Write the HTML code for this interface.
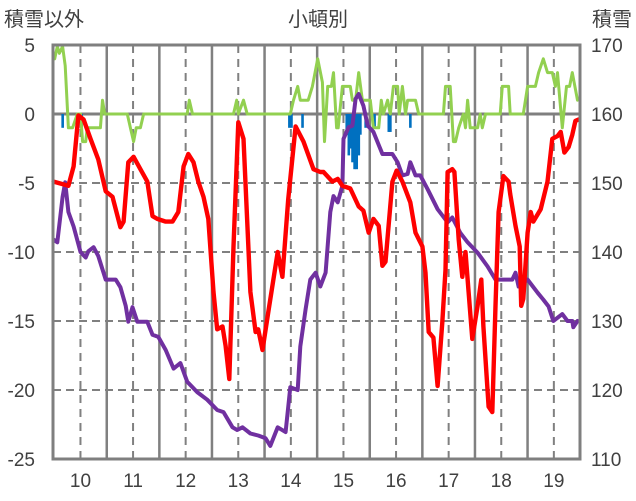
<!DOCTYPE html>
<html><head><meta charset="utf-8"><style>
html,body{margin:0;padding:0;background:#fff;}
svg{display:block;font-family:"Liberation Sans","Noto Sans CJK JP",sans-serif;}
</style></head><body>
<svg id="chart" width="636" height="501" viewBox="0 0 636 501" xmlns="http://www.w3.org/2000/svg">
<text x="4" y="26" font-size="20" fill="#404040">積雪以外</text>
<text x="318" y="26" font-size="20" fill="#404040" text-anchor="middle">小頓別</text>
<text x="592" y="26" font-size="20" fill="#404040">積雪</text>
<g id="grid"></g>
<g id="bars"></g>
<g id="lines"></g>
<rect x="53" y="45" width="527" height="414" fill="none" stroke="#7f7f7f" stroke-width="3"/>
<g id="axes"></g>
</svg>
<script>
const xTicks=[10,11,12,13,14,15,16,17,18,19];
const leftTicks=[5,0,-5,-10,-15,-20,-25];
const rightTicks=[170,160,150,140,130,120,110];
const redT=[9.49,9.77,9.87,9.96,10.06,10.19,10.34,10.48,10.61,10.76,10.82,10.91,11.01,11.14,11.27,11.37,11.46,11.62,11.75,11.86,11.96,12.05,12.15,12.24,12.34,12.43,12.53,12.60,12.70,12.76,12.83,12.91,13.00,13.10,13.23,13.33,13.38,13.46,13.57,13.75,13.84,13.95,14.09,14.24,14.43,14.56,14.62,14.79,14.89,14.98,15.13,15.29,15.38,15.48,15.57,15.67,15.74,15.80,15.93,16.01,16.12,16.27,16.37,16.50,16.56,16.62,16.71,16.79,16.88,16.94,16.98,17.07,17.11,17.19,17.26,17.32,17.38,17.45,17.55,17.62,17.66,17.76,17.83,17.89,17.95,18.04,18.14,18.17,18.27,18.35,18.38,18.42,18.50,18.56,18.61,18.75,18.88,18.97,19.07,19.13,19.20,19.28,19.35,19.41,19.47];
const redV=[-4.9,-5.2,-3.8,-0.1,-0.4,-1.8,-3.3,-5.6,-6,-8.2,-7.8,-3.5,-3.1,-4,-4.9,-7.4,-7.6,-7.8,-7.8,-7.1,-3.8,-2.9,-3.5,-4.9,-6,-7.6,-12.9,-15.6,-15.4,-16.8,-19.2,-9.6,-0.6,-1.8,-12.9,-15.8,-15.6,-17.1,-14.4,-10,-11.8,-6.2,-0.9,-2,-4,-4.2,-4.2,-4.9,-4.7,-5.2,-5.4,-6.7,-7,-8.6,-7.6,-8.1,-11,-10.7,-4.9,-4.1,-4.9,-6.4,-8.6,-9.6,-11.5,-15.8,-16.2,-19.7,-15.1,-11.3,-4.2,-4,-4.2,-9.1,-11.8,-10,-12.9,-16.3,-13.9,-12,-15.4,-21.2,-21.6,-13.9,-7.1,-4.5,-4.9,-5.8,-8.1,-9.6,-13.9,-13.4,-8.6,-7.1,-7.8,-6.9,-4.9,-1.8,-1.6,-1.3,-2.8,-2.4,-1.5,-0.5,-0.4];
const snowT=[9.49,9.56,9.66,9.71,9.77,9.87,10.0,10.10,10.15,10.25,10.34,10.48,10.67,10.76,10.86,10.91,10.99,11.08,11.27,11.37,11.48,11.62,11.77,11.90,12.03,12.22,12.41,12.60,12.72,12.89,12.98,13.08,13.23,13.38,13.52,13.61,13.75,13.90,13.99,14.13,14.18,14.28,14.37,14.47,14.56,14.66,14.75,14.81,14.89,14.98,15.00,15.10,15.17,15.23,15.29,15.38,15.46,15.57,15.74,15.93,16.03,16.12,16.22,16.27,16.37,16.46,16.60,16.79,16.98,17.07,17.22,17.36,17.55,17.74,17.89,18.21,18.27,18.33,18.50,18.69,18.80,18.90,18.99,19.16,19.26,19.35,19.37,19.45];
const snowV=[141.8,141.4,148,150.1,145.8,143.7,140,139.2,140.1,140.7,139.4,136,136,134.9,132.2,129.9,132,129.9,129.9,128,127.7,125.8,123.1,123.9,121.2,119.7,118.6,117.1,116.8,114.6,114.2,114.6,113.7,113.4,113,111.9,114.6,113.9,120.4,120,126.3,131.7,136,137,135,137,145.8,148.1,147.2,149.6,156.4,158.1,158.3,162.2,162.9,161.2,158.3,157.4,154.2,154.2,153,151.1,151.3,153,151.1,151.1,149.1,146.2,144.3,145,142.8,141.4,139.9,137.9,136,136,137,135,136,134.1,133.1,132.1,130,131,130,130,129.1,130];
const greenT=[9.51,9.56,9.60,9.66,9.71,9.77,9.85,9.94,10.0,10.04,10.10,10.13,10.38,10.42,10.46,10.89,10.95,11.01,11.06,11.14,11.20,12.03,12.07,12.13,12.91,12.97,13.00,13.10,13.17,13.99,14.05,14.13,14.18,14.33,14.41,14.51,14.60,14.64,14.70,14.77,14.81,14.87,14.90,14.98,15.13,15.17,15.23,15.29,15.36,15.51,15.57,15.67,15.72,15.76,15.84,15.89,15.95,16.03,16.06,16.12,16.18,16.22,16.37,16.43,16.90,16.94,17.03,17.09,17.13,17.19,17.28,17.32,17.36,17.41,17.55,17.60,17.64,17.70,17.98,18.02,18.14,18.17,18.42,18.50,18.65,18.71,18.80,18.88,18.97,19.03,19.07,19.16,19.24,19.30,19.35,19.45];
const greenV=[4,4.9,4.4,4.9,3.5,-1,-1,0,0,-2,-2,-1,-1,1,0,0,-1,-2,-1,-1,0,0,1,0,0,1,0,1,0,0,1,2,1,1,2,4,2.3,-2,2,2,3,-1,-1,2,2,1,1,3,1,1,-1,-1,1,0,1,0,2,2,0,2,0,1,1,0,0,2,2,-2,-2,-1,0,-1,1,-1,-1,0,-1,0,0,2,2,0,0,2,2,3,4,3,3,2,3,-1,2,2,3,1];
const barT=[9.66,9.96,10.02,13.97,14.01,14.22,15.06,15.10,15.13,15.17,15.21,15.25,15.29,15.32,15.42,15.59,15.86,15.89,16.27];
const barV=[-1,-1,-1,-1,-1,-1,-1.5,-3,-2.5,-3.5,-4,-4,-3,-1.5,-1,-1,-1.3,-1.3,-1];

const NS='http://www.w3.org/2000/svg';
const X0=53,X1=580,Y0=45,Y1=459;
const dMin=9.478,dMax=19.497;
const xs=d=>X0+(d-dMin)/(dMax-dMin)*(X1-X0);
const yL=v=>Y0+(5-v)/30*(Y1-Y0);
const yR=v=>Y0+(170-v)/60*(Y1-Y0);
function mk(tag,attrs,parent){const e=document.createElementNS(NS,tag);for(const k in attrs)e.setAttribute(k,attrs[k]);parent.appendChild(e);return e;}
const grid=document.getElementById('grid'),axes=document.getElementById('axes'),bars=document.getElementById('bars'),lines=document.getElementById('lines');
leftTicks.forEach(v=>{
  if(v===5||v===-25)return;
  const y=yL(v);
  const l=mk('line',{x1:X0,x2:X1,y1:y,y2:y,stroke:v===0?'#7f7f7f':'#808080','stroke-width':v===0?3:2,'stroke-dasharray':v===0?'none':'8 5'},grid);
  
  
});
for(let d=9.5;d<=19.5;d+=0.5){
  const x=xs(d);
  if(x<=X0+2||x>=X1-2)continue;
  const isDay=Math.abs(d-Math.round(d))<0.01;
  const l=mk('line',{x1:x,x2:x,y1:Y0,y2:Y1,stroke:'#808080','stroke-width':isDay?2:2.5,'stroke-dasharray':isDay?'8 6':'none'},grid);
  
  
}
barT.forEach((t,i)=>{
  const x=xs(t),y0=yL(0),y1=yL(barV[i]);
  const r=mk('rect',{x:x-1.2,y:y0,width:2.6,height:y1-y0,fill:'#0070c0'},bars);
  
  
});
function path(T,V,f,color,w,name){
  const d=T.map((t,i)=>(i?'L':'M')+xs(t).toFixed(1)+','+f(V[i]).toFixed(1)).join('');
  const p=mk('path',{d:d,fill:'none',stroke:color,'stroke-width':w,'stroke-linejoin':'round','stroke-linecap':'round'},lines);
  
  
}
path(greenT,greenV,yL,'#92d050',3,'green-series-line');
path(snowT,snowV,yR,'#7030a0',4,'snow-depth-line');
path(redT,redV,yL,'#ff0000',4.4,'temperature-line');
leftTicks.forEach(v=>{
  const t=mk('text',{x:35,y:yL(v)+7,'font-size':19,fill:'#404040','text-anchor':'end'},axes);
  t.textContent=v;
  
  
});
rightTicks.forEach(v=>{
  const t=mk('text',{x:591,y:yR(v)+7,'font-size':19,fill:'#404040'},axes);
  t.textContent=v;
  
  
});
xTicks.forEach(v=>{
  const t=mk('text',{x:xs(v),y:487,'font-size':19,fill:'#404040','text-anchor':'middle'},axes);
  t.textContent=v;
  
  
});
</script>
</body></html>
